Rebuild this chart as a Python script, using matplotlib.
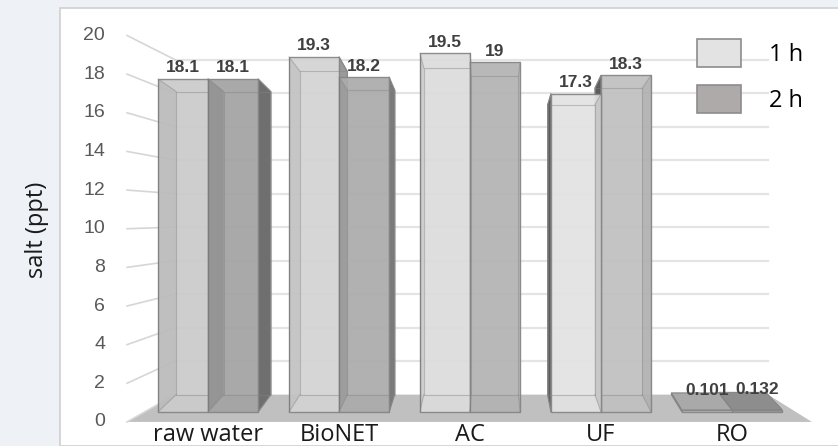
import matplotlib
matplotlib.use("Agg")
import matplotlib.pyplot as plt
from matplotlib.patches import Polygon, Rectangle, Patch

categories = ["raw water", "BioNET", "AC", "UF", "RO"]
series_names = ["1 h", "2 h"]
salt_1h = [18.1, 19.3, 19.5, 17.3, 0.101]
salt_2h = [18.1, 18.2, 19.0, 18.3, 0.132]
y_ticks = [0, 2, 4, 6, 8, 10, 12, 14, 16, 18, 20]

# shading of the 3D columns (lighting changes across the row)
front_1h = ["#cbcbcb", "#d3d3d3", "#dcdcdc", "#e2e2e2", "#bdbdbd"]
front_2h = ["#a3a3a3", "#ababab", "#b3b3b3", "#c0c0c0", "#9a9a9a"]
side_1h = ["#8e8e8e", "#9a9a9a", "#a0a0a0", "#5c5c5c", "#8a8a8a"]
side_2h = ["#6f6f6f", "#7a7a7a", "#858585", "#5c5c5c", "#707070"]
top_1h = "#a9a9a9"
top_2h = "#8d8d8d"
legend_colors = ["#e3e3e3", "#aeaaaa"]

# fake perspective: back of each column is pulled toward a vanishing point
BAR_W = 0.382
KX, VPX = 0.055, 2.15
KY, VPV = 0.09, 10.5
WALL_X0, WALL_X1 = -0.252, 4.275
FRONT_X0, FRONT_X1 = -0.618, 4.61
EDGE = "#858585"


def proj(x, v, d=1.0):
    return x + d * KX * (VPX - x), v + d * KY * (VPV - v)


def label_v(v):
    # tick labels sit on a plane in front of the columns
    return -0.54 + 1.05 * v


def draw_bar(ax, x0, value, face, side, top, z):
    x1 = x0 + BAR_W
    front = [(x0, 0), (x1, 0), (x1, value), (x0, value)]
    back = [proj(x, y) for x, y in front]
    right = [front[1], back[1], back[2], front[2]]
    left = [front[0], back[0], back[3], front[3]]
    if x1 < VPX:
        ax.add_patch(Polygon(right, closed=True, fc=side, ec=EDGE, lw=0.8, zorder=z))
        inner = left
    elif x0 > VPX:
        ax.add_patch(Polygon(left, closed=True, fc=side, ec=EDGE, lw=0.8, zorder=z))
        inner = right
    else:
        inner = None
    if value < VPV:
        cap = [front[3], front[2], back[2], back[3]]
        ax.add_patch(Polygon(cap, closed=True, fc=top, ec=EDGE, lw=0.8, zorder=z))
    ax.add_patch(Polygon(front, closed=True, fc=face, ec=EDGE, lw=1.0,
                         alpha=0.93, zorder=z + 0.1))
    if inner is not None and value > 1:
        ax.add_patch(Polygon(inner, closed=True, fc="black", ec="none",
                             alpha=0.07, zorder=z + 0.2))
    if value > 1:
        bx = [p[0] for p in back] + [back[0][0]]
        by = [p[1] for p in back] + [back[0][1]]
        ax.plot(bx, by, color=EDGE, lw=0.8, alpha=0.45, zorder=z + 0.3)
        for f, b in zip(front, back):
            ax.plot([f[0], b[0]], [f[1], b[1]], color=EDGE, lw=0.8,
                    alpha=0.45, zorder=z + 0.3)
    back_top = back[2][1]
    lx = (x0 + x1) / 2
    ly = (value + max(value, back_top)) / 2 + 0.6
    return lx, ly


fig = plt.figure(figsize=(8.38, 4.46), dpi=100, facecolor="#eef1f5")
fig.add_artist(Rectangle((60 / 838, 0), 1, 1 - 8 / 446, transform=fig.transFigure,
                         fc="white", ec="#d0d0d0", lw=1.2, zorder=-1))

ax = fig.add_axes([0, 0, 1, 1])
ax.set_xlim(-1.588, 4.809)
ax.set_ylim(-1.848, 22.39)
ax.axis("off")

# floor
floor = [(FRONT_X0, label_v(0)), (FRONT_X1, label_v(0)),
         (WALL_X1, proj(0, 0)[1]), (WALL_X0, proj(0, 0)[1])]
ax.add_patch(Polygon(floor, closed=True, fc="#c0c0c0", ec="none", zorder=1))

# back-wall gridlines, slanted tick connectors and tick labels
for t in y_ticks:
    wy = proj(0, t)[1]
    if t > 0:
        ax.plot([WALL_X0, WALL_X1], [wy, wy], color="#e4e4e4", lw=1.6, zorder=1)
    ax.plot([FRONT_X0, WALL_X0], [label_v(t), wy], color="#d6d6d6", lw=1.2, zorder=1)
    ax.text(-0.785, label_v(t), str(t), ha="right", va="center", fontsize=14,
            family="Liberation Sans", color="#595959")

# columns, drawn from the outside in so inner faces overlap correctly
bars = []
for i in range(len(categories)):
    bars.append((i - BAR_W, salt_1h[i], front_1h[i], side_1h[i], top_1h))
    bars.append((i, salt_2h[i], front_2h[i], side_2h[i], top_2h))
bars.sort(key=lambda b: -abs(b[0] + BAR_W / 2 - VPX))
for k, (x0, val, face, side, top) in enumerate(bars):
    lx, ly = draw_bar(ax, x0, val, face, side, top, 3 + k)
    ax.text(lx, ly, f"{val:g}", ha="center", va="center", fontsize=12.5,
            fontweight="bold", family="Liberation Sans", color="#404040", zorder=30)

for i, name in enumerate(categories):
    ax.text(i, -1.25, name, ha="center", va="center", fontsize=17,
            family="Open Sans", color="#1a1a1a", zorder=30)

fig.text(37 / 838, 1 - 230 / 446, "salt (ppt)", rotation=90, ha="center",
         va="center", fontsize=17, family="Open Sans", color="#1a1a1a")

handles = [Patch(fc=c, ec="#8c8c8c", lw=1.2) for c in legend_colors]
leg = ax.legend(handles, series_names, loc="upper left",
                bbox_to_anchor=(697 / 838, 1 - 39 / 446), frameon=False,
                prop={"family": "Open Sans", "size": 17}, handlelength=1.85,
                handleheight=1.45, handletextpad=1.2, labelspacing=0.75,
                borderpad=0, borderaxespad=0)
leg.set_zorder(40)

fig.savefig("out.png", dpi=100, facecolor=fig.get_facecolor())
